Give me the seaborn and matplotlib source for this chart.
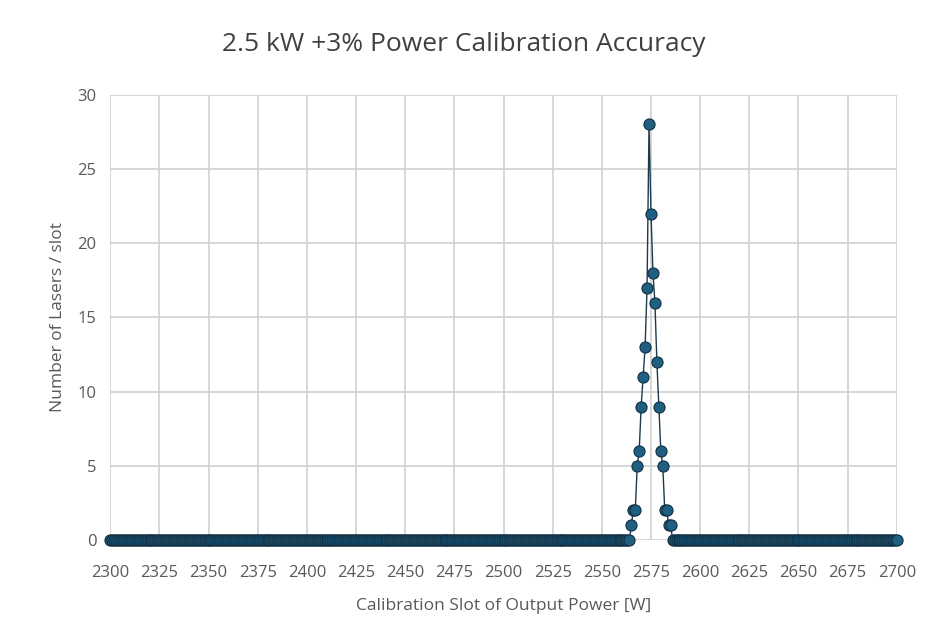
import numpy as np
import pandas as pd
import matplotlib.pyplot as plt
import seaborn as sns

sns.set_theme(style="white")
plt.rcParams['font.family'] = 'Open Sans'

# calibration slots in 1 W steps, counts
slots = list(range(2300, 2701))
peak_start = 2565
peak_counts = [1, 2, 2, 5, 6, 9, 11, 13, 17, 28, 22, 18, 16, 12, 9, 6, 5, 2, 2, 1, 1]
counts = [0] * len(slots)
for i, c in enumerate(peak_counts):
    counts[slots.index(peak_start + i)] = c

x_ticks = list(range(2300, 2701, 25))
y_ticks = list(range(0, 31, 5))

df = pd.DataFrame({'slot': slots, 'count': counts})

fig, ax = plt.subplots(figsize=(9.5, 6.4), dpi=100)
fig.subplots_adjust(left=0.116, right=0.944, top=0.852, bottom=0.156)

sns.lineplot(data=df, x='slot', y='count', ax=ax, color='#1b3a4b', linewidth=1.0,
             marker='o', markersize=8, markerfacecolor='#1e5f82',
             markeredgecolor='#123042', markeredgewidth=0.8, clip_on=False, zorder=3)

ax.set_xlim(2300, 2700)
ax.set_ylim(0, 30)
ax.set_xticks(x_ticks)
ax.set_yticks(y_ticks)
ax.grid(True, color='#d0d0d0', linewidth=1.2)
for s in ax.spines.values():
    s.set_visible(False)
ax.tick_params(colors='#595959', labelsize=12, length=0)
ax.tick_params(axis='x', pad=18)
ax.tick_params(axis='y', pad=10)
ax.set_xlabel('Calibration Slot of Output Power [W]', fontsize=12.5, color='#595959', labelpad=12)
ax.set_ylabel('Number of Lasers / slot', fontsize=12.5, color='#595959', labelpad=8)
fig.suptitle('2.5 kW +3% Power Calibration Accuracy', fontsize=19, color='#404040', y=0.95, x=0.488)

plt.savefig('out.png', dpi=100)
